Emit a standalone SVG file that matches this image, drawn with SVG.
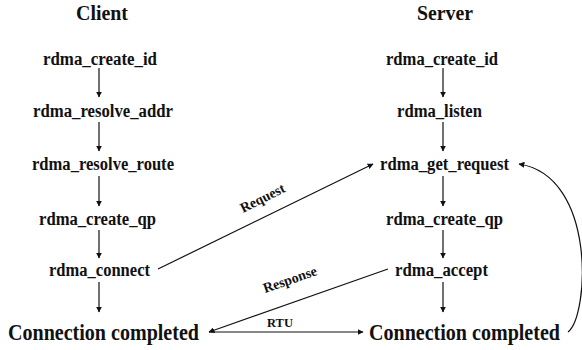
<svg xmlns="http://www.w3.org/2000/svg" width="582" height="350" viewBox="0 0 582 350">
<style>
text{font-family:"Liberation Serif","Times New Roman",serif;font-weight:bold;fill:#111}
.t{font-size:20px}
.n{font-size:18px}
.c{font-size:23px}
.l{font-size:14px}
.s{font-size:12.5px}
.e{stroke:#111;stroke-width:1.2;fill:none}
</style>
<defs>
<marker id="ah" viewBox="0 0 10 10" refX="9" refY="5" markerWidth="6" markerHeight="6" markerUnits="userSpaceOnUse" orient="auto">
<path d="M0,0 L10,5 L0,10 z" fill="#111"/>
</marker>
</defs>
<rect width="582" height="350" fill="#fff"/>
<g id="titles">
<text class="t" x="76" y="20" textLength="52" lengthAdjust="spacingAndGlyphs">Client</text>
<text class="t" x="417" y="20" textLength="56" lengthAdjust="spacingAndGlyphs">Server</text>
</g>
<g id="c1"><text class="n" x="43" y="65" textLength="114" lengthAdjust="spacingAndGlyphs">rdma_create_id</text></g>
<g id="c2"><text class="n" x="33" y="117" textLength="140" lengthAdjust="spacingAndGlyphs">rdma_resolve_addr</text></g>
<g id="c3"><text class="n" x="32" y="170" textLength="142" lengthAdjust="spacingAndGlyphs">rdma_resolve_route</text></g>
<g id="c4"><text class="n" x="39" y="225" textLength="117" lengthAdjust="spacingAndGlyphs">rdma_create_qp</text></g>
<g id="c5"><text class="n" x="49" y="276" textLength="101" lengthAdjust="spacingAndGlyphs">rdma_connect</text></g>
<g id="c6"><text class="c" x="8" y="340" textLength="191" lengthAdjust="spacingAndGlyphs">Connection completed</text></g>
<g id="s1"><text class="n" x="386" y="65" textLength="112" lengthAdjust="spacingAndGlyphs">rdma_create_id</text></g>
<g id="s2"><text class="n" x="397" y="117" textLength="85" lengthAdjust="spacingAndGlyphs">rdma_listen</text></g>
<g id="s3"><text class="n" x="380" y="170" textLength="129" lengthAdjust="spacingAndGlyphs">rdma_get_request</text></g>
<g id="s4"><text class="n" x="386" y="225" textLength="117" lengthAdjust="spacingAndGlyphs">rdma_create_qp</text></g>
<g id="s5"><text class="n" x="395" y="276" textLength="93" lengthAdjust="spacingAndGlyphs">rdma_accept</text></g>
<g id="s6"><text class="c" x="369" y="340" textLength="191" lengthAdjust="spacingAndGlyphs">Connection completed</text></g>
<g id="connectors">
<line class="e" x1="99" y1="68" x2="99" y2="97" marker-end="url(#ah)"/>
<line class="e" x1="99" y1="122" x2="99" y2="151" marker-end="url(#ah)"/>
<line class="e" x1="99" y1="176" x2="99" y2="206" marker-end="url(#ah)"/>
<line class="e" x1="99" y1="230" x2="99" y2="258" marker-end="url(#ah)"/>
<line class="e" x1="99" y1="282" x2="99" y2="312" marker-end="url(#ah)"/>
<line class="e" x1="443" y1="68" x2="443" y2="97" marker-end="url(#ah)"/>
<line class="e" x1="443" y1="122" x2="443" y2="151" marker-end="url(#ah)"/>
<line class="e" x1="443" y1="176" x2="443" y2="206" marker-end="url(#ah)"/>
<line class="e" x1="443" y1="230" x2="443" y2="258" marker-end="url(#ah)"/>
<line class="e" x1="443" y1="282" x2="443" y2="312" marker-end="url(#ah)"/>
<line class="e" x1="158" y1="269" x2="373" y2="164" marker-end="url(#ah)"/>
<line class="e" x1="388" y1="269" x2="209" y2="332" marker-end="url(#ah)"/>
<line class="e" x1="209" y1="332" x2="363" y2="332" marker-end="url(#ah)"/>
<path class="e" d="M568,332 C589,316 597,176 519,164" marker-end="url(#ah)"/>
<text class="l" transform="translate(243,213) rotate(-26.5)">Request</text>
<text class="l" transform="translate(265,293) rotate(-19)">Response</text>
<text class="s" x="267" y="327">RTU</text>
</g>
</svg>
